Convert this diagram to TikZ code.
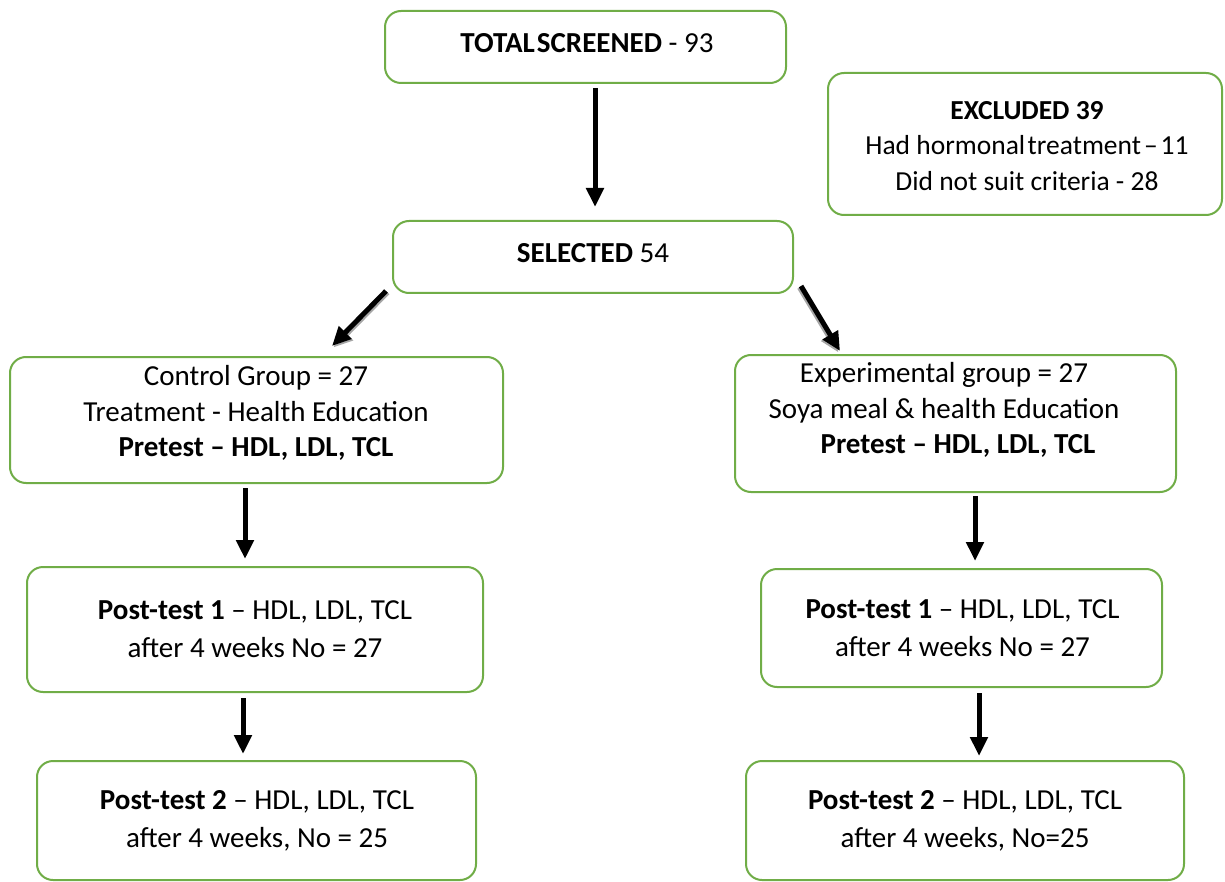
\documentclass[tikz,border=0pt]{standalone}
\usepackage{fontspec}
\setmainfont{Carlito}
\usetikzlibrary{arrows.meta}
\definecolor{boxgreen}{HTML}{70AD47}
\tikzset{
  box/.style={draw=boxgreen, line width=2pt, rounded corners=16pt, inner sep=0pt, fill=white},
  txt/.style={font=\fontsize{29}{35.5}\selectfont, align=center, inner sep=0pt},
  txtp/.style={font=\fontsize{29}{38}\selectfont, align=center, inner sep=0pt},
  arr/.style={line width=5pt, -{Triangle[width=17pt,length=19pt]}},
  shadowarr/.style={line width=5pt, draw=black!35, -{Triangle[width=17pt,length=19pt]}}
}
\begin{document}
\begin{tikzpicture}[x=1pt,y={(0pt,-1pt)}]
\useasboundingbox (0,0) rectangle (1225,882);
% boxes
\node[box, minimum width=401pt, minimum height=72pt] (ts) at (585.5,47) {};
\node[box, minimum width=400pt, minimum height=72pt] (sel) at (593,257) {};
\node[box, minimum width=394pt, minimum height=142pt] (exc) at (1025,144) {};
\node[box, minimum width=493pt, minimum height=126pt] (ctl) at (256.5,420) {};
\node[box, minimum width=441pt, minimum height=137pt] (exp) at (955.5,423.5) {};
\node[box, minimum width=456pt, minimum height=125pt] (p1l) at (255,629.5) {};
\node[box, minimum width=439pt, minimum height=119pt] (p2l) at (256.5,820.5) {};
\node[box, minimum width=401pt, minimum height=118pt] (p1r) at (961.5,628) {};
\node[box, minimum width=438pt, minimum height=119pt] (p2r) at (965,820.5) {};
% texts
\node[txt, anchor=base] (tst) at (587,53) {\textbf{TOTAL\hspace{2pt}SCREENED} - 93};
\node[txt, anchor=base] (selt) at (593,263) {\textbf{SELECTED} 54};
\node[txt, font=\fontsize{27.5}{35.5}\selectfont] (exct) at (1027,146) {\textbf{EXCLUDED 39}\\Had hormonal\hspace{2.5pt}treatment\hspace{3pt}--\hspace{3pt}11\\Did not suit criteria - 28};
\node[txt] (ctlt) at (256,413) {Control Group = 27\\Treatment - Health Education\\\textbf{Pretest -- HDL, LDL, TCL}};
\node[txt] (expt) at (944,410) {Experimental group = 27\\Soya meal \& health Education\\\hspace*{28pt}\textbf{Pretest -- HDL, LDL, TCL}};
\node[txtp] (p1lt) at (255,629) {\textbf{Post-test 1} -- HDL, LDL, TCL\\after 4 weeks No = 27};
\node[txtp] (p2lt) at (257,820.5) {\textbf{Post-test 2} -- HDL, LDL, TCL\\after 4 weeks, No = 25};
\node[txtp] (p1rt) at (962.5,628.5) {\textbf{Post-test 1} -- HDL, LDL, TCL\\after 4 weeks No = 27};
\node[txtp] (p2rt) at (965,821) {\textbf{Post-test 2} -- HDL, LDL, TCL\\after 4 weeks, No=25};
% arrows
\draw[arr, shorten <=4pt, shorten >=13pt] ([xshift=9.5pt]ts.south) -- ([xshift=2pt]sel.north);
\draw[shadowarr] ([xshift=-4.5pt,yshift=1.5pt]sel.south west) -- ([xshift=77pt,yshift=8.5pt]ctl.north);
\draw[arr] ([xshift=-6pt,yshift=3pt]sel.south west) -- ([xshift=75.5pt,yshift=10pt]ctl.north);
\draw[shadowarr] ([xshift=5.5pt,yshift=6.5pt]sel.south east) -- ([xshift=-117pt,yshift=1.5pt]exp.north);
\draw[arr] ([xshift=7pt,yshift=8pt]sel.south east) -- ([xshift=-115.5pt,yshift=3pt]exp.north);
\draw[arr, shorten <=4pt, shorten >=7pt] ([xshift=-11.5pt]ctl.south) -- ([xshift=-10pt]p1l.north);
\draw[arr, shorten <=5pt, shorten >=6pt] ([xshift=-12pt]p1l.south) -- ([xshift=-13.5pt]p2l.north);
\draw[arr, shorten <=3pt, shorten >=7pt] ([xshift=19.5pt]exp.south) -- ([xshift=13.5pt]p1r.north);
\draw[arr, shorten <=5pt, shorten >=4pt] ([xshift=17.5pt]p1r.south) -- ([xshift=14pt]p2r.north);
\end{tikzpicture}
\end{document}
